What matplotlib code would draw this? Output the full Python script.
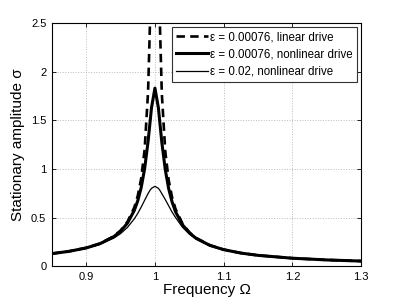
import matplotlib.pyplot as plt

plt.rcParams['font.family'] = ['Liberation Sans', 'DejaVu Sans']

# frequency grid
omega = [0.85, 0.875, 0.9, 0.92, 0.94, 0.95, 0.96, 0.97, 0.975, 0.98, 0.985,
         0.99, 0.993, 0.995, 1.0, 1.005, 1.007, 1.01, 1.015, 1.02, 1.025,
         1.03, 1.04, 1.05, 1.06, 1.08, 1.1, 1.125, 1.15, 1.2, 1.25, 1.3]

# eps = 0.00076, linear drive
sig_lin = [0.1286, 0.1523, 0.1879, 0.2324, 0.3067, 0.3662, 0.4554, 0.6041,
           0.7230, 0.9015, 1.199, 1.794, 2.559, 3.58, 23.5, 3.56, 2.541,
           1.776, 1.181, 0.8837, 0.7052, 0.5862, 0.4375, 0.3483, 0.2888,
           0.2145, 0.170, 0.1344, 0.1107, 0.0811, 0.0635, 0.0517]

# eps = 0.00076, nonlinear drive
sig_nl1 = [0.1283, 0.1518, 0.1869, 0.2306, 0.3025, 0.3590, 0.4419, 0.5737,
           0.6723, 0.8088, 1.0025, 1.2815, 1.489, 1.630, 1.831, 1.629, 1.486,
           1.275, 0.9933, 0.7958, 0.6584, 0.5583, 0.4255, 0.3422, 0.2853,
           0.2131, 0.1693, 0.1341, 0.1105, 0.0811, 0.0634, 0.0517]

# eps = 0.02, nonlinear drive
sig_nl2 = [0.1271, 0.1497, 0.1832, 0.2237, 0.2873, 0.3344, 0.3982, 0.4866,
           0.5425, 0.6071, 0.6774, 0.7467, 0.7815, 0.8003, 0.8207, 0.8000,
           0.7815, 0.7460, 0.685, 0.620, 0.555, 0.500, 0.400, 0.330, 0.278,
           0.2076, 0.1665, 0.1327, 0.1097, 0.0807, 0.0633, 0.0516]

fig = plt.figure(figsize=(3.99, 3.0), dpi=100)
ax = fig.add_axes([0.130, 0.113, 0.775, 0.810])

ax.plot(omega, sig_lin, 'k--', lw=1.9, dashes=(3.2, 2),
        label='\u03b5 = 0.00076, linear drive')
ax.plot(omega, sig_nl1, 'k-', lw=2.2, label='\u03b5 = 0.00076, nonlinear drive')
ax.plot(omega, sig_nl2, 'k-', lw=0.9, label='\u03b5 = 0.02, nonlinear drive')

ax.set_xlim(0.85, 1.3)
ax.set_ylim(0, 2.5)
ax.set_xticks([0.9, 1.0, 1.1, 1.2, 1.3])
ax.set_xticklabels(['0.9', '1', '1.1', '1.2', '1.3'])
ax.set_yticks([0, 0.5, 1, 1.5, 2, 2.5])
ax.set_yticklabels(['0', '0.5', '1', '1.5', '2', '2.5'])
ax.tick_params(direction='in', top=True, right=True, labelsize=8, length=3,
               width=0.6, pad=4)
ax.grid(True, linestyle=':', color='#bbbbbb', lw=0.7)
for s in ax.spines.values():
    s.set_linewidth(0.8)

ax.set_xlabel('Frequency \u03a9', fontsize=11, labelpad=1)
ax.set_ylabel('Stationary amplitude \u03c3', fontsize=11, labelpad=4)

leg = ax.legend(loc='upper right', fontsize=8.3, fancybox=False, framealpha=1,
                edgecolor='#333333', borderpad=0.35, handlelength=2.8,
                handletextpad=0.2, labelspacing=0.45, borderaxespad=0.35)
leg.get_frame().set_linewidth(0.8)

fig.savefig('out.png', dpi=100)
